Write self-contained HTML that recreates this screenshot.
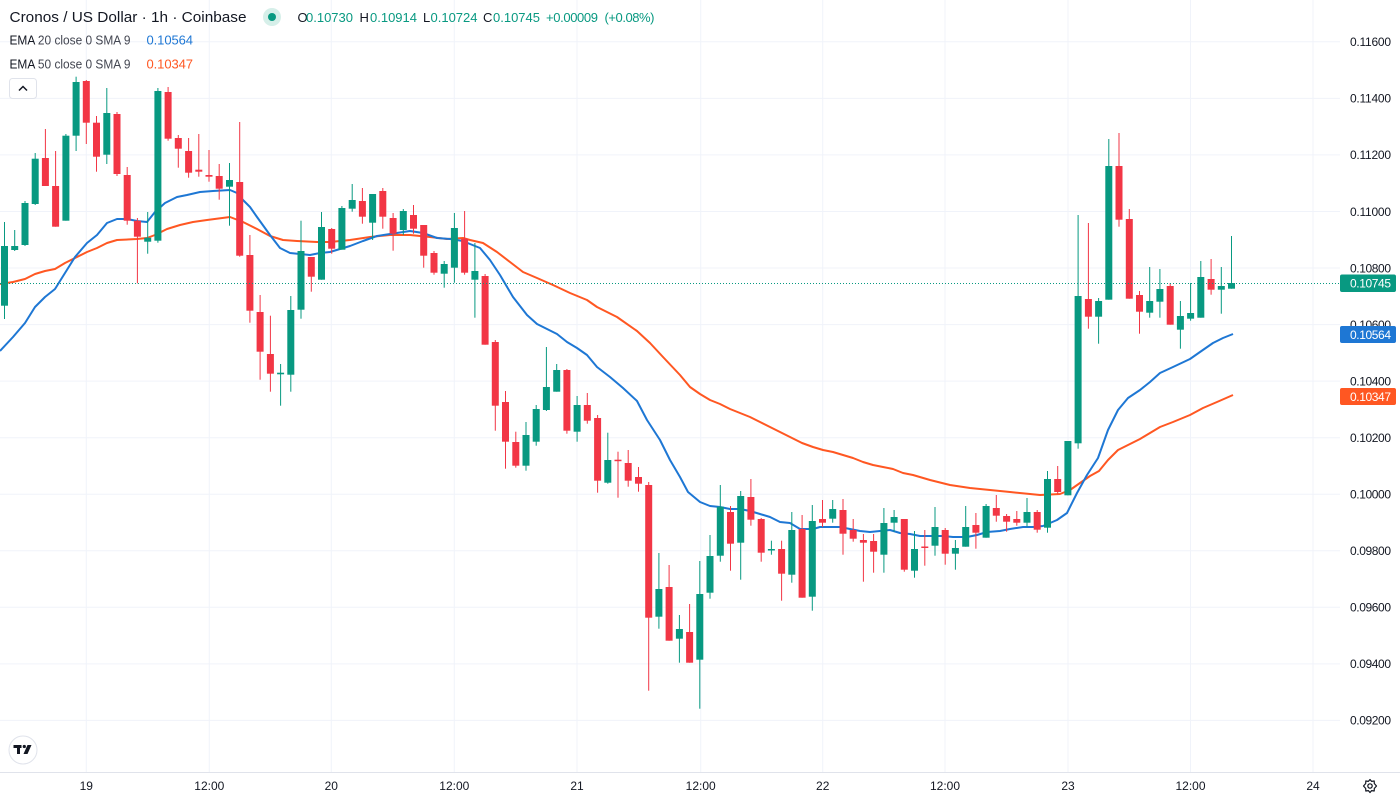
<!DOCTYPE html>
<html><head><meta charset="utf-8"><style>
html,body{margin:0;padding:0;background:#fff;}
svg{display:block;font-family:"Liberation Sans",Arial,sans-serif;}
</style></head><body>
<svg width="1400" height="800" viewBox="0 0 1400 800" xmlns="http://www.w3.org/2000/svg">
<rect width="1400" height="800" fill="#fff"/>
<!-- grid -->
<g stroke="#f0f3fa" stroke-width="1">
<line x1="86.3" y1="0" x2="86.3" y2="772"/><line x1="209.3" y1="0" x2="209.3" y2="772"/>
<line x1="331.3" y1="0" x2="331.3" y2="772"/><line x1="454.3" y1="0" x2="454.3" y2="772"/>
<line x1="577" y1="0" x2="577" y2="772"/><line x1="700.7" y1="0" x2="700.7" y2="772"/>
<line x1="822.7" y1="0" x2="822.7" y2="772"/><line x1="945" y1="0" x2="945" y2="772"/>
<line x1="1068" y1="0" x2="1068" y2="772"/><line x1="1190.5" y1="0" x2="1190.5" y2="772"/>
<line x1="1313" y1="0" x2="1313" y2="772"/>
<line x1="0" y1="41.8" x2="1340" y2="41.8"/><line x1="0" y1="98.4" x2="1340" y2="98.4"/>
<line x1="0" y1="154.9" x2="1340" y2="154.9"/><line x1="0" y1="211.5" x2="1340" y2="211.5"/>
<line x1="0" y1="268" x2="1340" y2="268"/><line x1="0" y1="324.6" x2="1340" y2="324.6"/>
<line x1="0" y1="381.1" x2="1340" y2="381.1"/><line x1="0" y1="437.7" x2="1340" y2="437.7"/>
<line x1="0" y1="494.2" x2="1340" y2="494.2"/><line x1="0" y1="550.8" x2="1340" y2="550.8"/>
<line x1="0" y1="607.3" x2="1340" y2="607.3"/><line x1="0" y1="663.9" x2="1340" y2="663.9"/>
<line x1="0" y1="720.4" x2="1340" y2="720.4"/>
</g>
<line x1="0" y1="772.5" x2="1400" y2="772.5" stroke="#e0e3eb" stroke-width="1"/>

<!-- EMA 50 -->
<polyline fill="none" stroke="#ff5722" stroke-width="2" stroke-linejoin="round" points="0,284 13,282 25,279 35,274 45,271 55,269 65,263 75,258 87,252 97,248 107,243 117,240 137,239 147,238 155,235 167,229 180,225 193,222 207,220 230,217 243,222 257,229 270,236 283,240 297,241 317,242 330,242 350,240 370,237 390,235 410,235 430,237 447,239 463,238 470,240 483,243 497,252 510,262 523,272 537,278 553,285 570,293 587,300 597,307 617,317 637,331 650,343 663,357 680,375 690,387 700,394 710,400 720,404 730,409 740,413 750,417 760,422 770,427 780,432 790,437 802,443 813,447 823,450 833,452 843,455 853,458 863,462 873,465 883,467 893,469 903,473 913,475 930,480 950,485 970,488 990,490 1010,492 1030,494 1040,495 1060,494 1070,490 1080,483 1090,476 1099,471 1108,460 1118,450 1128,445 1140,439 1150,433 1160,427 1173,422 1190,415 1203,408 1217,402 1233,395"/>
<!-- EMA 20 -->
<polyline fill="none" stroke="#1e77d4" stroke-width="2" stroke-linejoin="round" points="0,351 13,337 25,323 35,307 45,297 55,289 65,273 75,257 87,243 97,235 107,223 117,219 127,219 137,221 147,222 155,212 165,203 177,197 187,195 200,192 213,191 230,190 237,193 243,200 250,207 257,217 270,235 280,248 290,253 300,254 310,255 320,253 330,252 340,249 350,246 363,241 377,236 390,234 410,231 423,233 437,238 450,239 463,241 470,244 480,248 490,260 500,275 513,297 527,315 537,324 547,329 557,334 567,342 577,348 587,355 597,367 610,377 623,388 637,401 647,420 660,440 670,460 680,477 688,492 700,502 710,506 720,507 730,509 740,509 750,511 760,514 770,517 780,522 790,523 800,529 813,529 820,527 830,527 840,527 850,529 860,531 870,532 880,531 890,530 900,533 910,534 920,536 930,536 943,536 953,537 967,537 977,535 987,532 1000,531 1010,529 1023,527 1033,527 1043,526 1057,520 1067,513 1077,493 1087,475 1098,458 1108,430 1118,410 1128,398 1140,390 1150,382 1160,373 1173,367 1190,359 1200,352 1213,343 1223,338 1233,334"/>

<!-- green candles -->
<g fill="#089981">
<rect x="1" y="246" width="7" height="59.7"/><rect x="4" y="222" width="1" height="97"/>
<rect x="11.2" y="246" width="7" height="4"/><rect x="14.2" y="230" width="1" height="21"/>
<rect x="21.5" y="203" width="7" height="42"/><rect x="24.5" y="201" width="1" height="45"/>
<rect x="31.7" y="158.7" width="7" height="45.3"/><rect x="34.7" y="153" width="1" height="52"/>
<rect x="62.4" y="135.7" width="7" height="85"/><rect x="65.4" y="134" width="1" height="86.7"/>
<rect x="72.6" y="82" width="7" height="53.7"/><rect x="75.6" y="76.7" width="1" height="74.3"/>
<rect x="103.3" y="113" width="7" height="41.7"/><rect x="106.3" y="88" width="1" height="76"/>
<rect x="144.2" y="237.7" width="7" height="4"/><rect x="147.2" y="212" width="1" height="41.7"/>
<rect x="154.4" y="91" width="7" height="149.7"/><rect x="157.4" y="88" width="1" height="154.7"/>
<rect x="226" y="180" width="7" height="6.7"/><rect x="229" y="163" width="1" height="62.7"/>
<rect x="277.1" y="372.7" width="7" height="1.6"/><rect x="280.1" y="364" width="1" height="41.7"/>
<rect x="287.3" y="310" width="7" height="64.7"/><rect x="290.3" y="296" width="1" height="95.7"/>
<rect x="297.5" y="251" width="7" height="58.7"/><rect x="300.5" y="220.7" width="1" height="98"/>
<rect x="318" y="227" width="7" height="52.7"/><rect x="321" y="212" width="1" height="67.7"/>
<rect x="338.4" y="208" width="7" height="41.7"/><rect x="341.4" y="206" width="1" height="43.7"/>
<rect x="348.7" y="200" width="7" height="8.7"/><rect x="351.7" y="184" width="1" height="27.7"/>
<rect x="369.1" y="194" width="7" height="28.7"/><rect x="372.1" y="194" width="1" height="46"/>
<rect x="399.8" y="211" width="7" height="19"/><rect x="402.8" y="209" width="1" height="26"/>
<rect x="440.7" y="264" width="7" height="9.7"/><rect x="443.7" y="261" width="1" height="26.7"/>
<rect x="450.9" y="228" width="7" height="39.7"/><rect x="453.9" y="213" width="1" height="69.7"/>
<rect x="471.4" y="271" width="7" height="8.7"/><rect x="474.4" y="243" width="1" height="74.7"/>
<rect x="522.5" y="435" width="7" height="30.7"/><rect x="525.5" y="422" width="1" height="48.7"/>
<rect x="532.7" y="409" width="7" height="32.7"/><rect x="535.7" y="405" width="1" height="40.7"/>
<rect x="542.9" y="387" width="7" height="23"/><rect x="545.9" y="347" width="1" height="64"/>
<rect x="553.2" y="370" width="7" height="21.7"/><rect x="556.2" y="364" width="1" height="27.7"/>
<rect x="573.6" y="405" width="7" height="26.7"/><rect x="576.6" y="396" width="1" height="45.7"/>
<rect x="604.3" y="460" width="7" height="22.7"/><rect x="607.3" y="432.7" width="1" height="51"/>
<rect x="655.4" y="589" width="7" height="27.7"/><rect x="658.4" y="553" width="1" height="75.7"/>
<rect x="675.9" y="629" width="7" height="9.7"/><rect x="678.9" y="615" width="1" height="47.7"/>
<rect x="696.3" y="594" width="7" height="65.7"/><rect x="699.3" y="561" width="1" height="147.7"/>
<rect x="706.5" y="556" width="7" height="36.7"/><rect x="709.5" y="535" width="1" height="63.7"/>
<rect x="716.8" y="506.7" width="7" height="49"/><rect x="719.8" y="485" width="1" height="76.7"/>
<rect x="737.2" y="496" width="7" height="46.7"/><rect x="740.2" y="491" width="1" height="88.7"/>
<rect x="767.9" y="549" width="7" height="1.5"/><rect x="770.9" y="540.7" width="1" height="14"/>
<rect x="788.3" y="530" width="7" height="44.7"/><rect x="791.3" y="512" width="1" height="70.7"/>
<rect x="808.8" y="521" width="7" height="75.7"/><rect x="811.8" y="505" width="1" height="105.7"/>
<rect x="829.2" y="509" width="7" height="9.7"/><rect x="832.2" y="500" width="1" height="22.7"/>
<rect x="880.4" y="523" width="7" height="31.7"/><rect x="883.4" y="508" width="1" height="64.7"/>
<rect x="890.6" y="517" width="7" height="5.7"/><rect x="893.6" y="510" width="1" height="21.7"/>
<rect x="911" y="549" width="7" height="21.7"/><rect x="914" y="531" width="1" height="46.7"/>
<rect x="931.5" y="527" width="7" height="18.7"/><rect x="934.5" y="507" width="1" height="48.7"/>
<rect x="951.9" y="548" width="7" height="5.7"/><rect x="954.9" y="540" width="1" height="29.7"/>
<rect x="962.2" y="527" width="7" height="19.7"/><rect x="965.2" y="506" width="1" height="40.7"/>
<rect x="982.6" y="506" width="7" height="31.7"/><rect x="985.6" y="504" width="1" height="33.7"/>
<rect x="1023.5" y="512" width="7" height="10.7"/><rect x="1026.5" y="498" width="1" height="28.7"/>
<rect x="1044" y="479" width="7" height="48.7"/><rect x="1047" y="471" width="1" height="61.7"/>
<rect x="1064.4" y="441" width="7" height="54.3"/><rect x="1067.4" y="441" width="1" height="54.3"/>
<rect x="1074.6" y="296" width="7" height="147.3"/><rect x="1077.6" y="215" width="1" height="233.7"/>
<rect x="1095.1" y="301" width="7" height="15.7"/><rect x="1098.1" y="298" width="1" height="45.7"/>
<rect x="1105.3" y="166" width="7" height="133.7"/><rect x="1108.3" y="139" width="1" height="160.7"/>
<rect x="1146.2" y="301" width="7" height="11.7"/><rect x="1149.2" y="267" width="1" height="50.7"/>
<rect x="1156.4" y="289" width="7" height="12.7"/><rect x="1159.4" y="269" width="1" height="48.7"/>
<rect x="1176.9" y="316" width="7" height="13.7"/><rect x="1179.9" y="301" width="1" height="47.7"/>
<rect x="1187.1" y="313" width="7" height="5.7"/><rect x="1190.1" y="283" width="1" height="37.7"/>
<rect x="1197.3" y="277" width="7" height="40.7"/><rect x="1200.3" y="261" width="1" height="56.7"/>
<rect x="1217.8" y="286" width="7" height="3.7"/><rect x="1220.8" y="267" width="1" height="46.7"/>
<rect x="1228" y="283" width="7" height="5.7"/><rect x="1231" y="236" width="1" height="52.7"/>
</g>
<!-- red candles -->
<g fill="#f23645">
<rect x="41.9" y="158" width="7" height="28"/><rect x="44.9" y="129" width="1" height="57"/>
<rect x="52.1" y="186" width="7" height="40.7"/><rect x="55.1" y="151" width="1" height="75.7"/>
<rect x="82.8" y="81" width="7" height="41.7"/><rect x="85.8" y="80" width="1" height="64"/>
<rect x="93" y="122.7" width="7" height="34"/><rect x="96" y="116" width="1" height="55.7"/>
<rect x="113.5" y="114" width="7" height="60"/><rect x="116.5" y="112" width="1" height="64"/>
<rect x="123.7" y="175" width="7" height="45.7"/><rect x="126.7" y="167" width="1" height="57.7"/>
<rect x="133.9" y="220.7" width="7" height="16"/><rect x="136.9" y="218" width="1" height="65.3"/>
<rect x="164.6" y="92" width="7" height="46.7"/><rect x="167.6" y="87" width="1" height="53.7"/>
<rect x="174.8" y="138" width="7" height="10.7"/><rect x="177.8" y="135" width="1" height="32.7"/>
<rect x="185.1" y="151" width="7" height="21.7"/><rect x="188.1" y="138" width="1" height="39.7"/>
<rect x="195.3" y="169.7" width="7" height="2"/><rect x="198.3" y="134" width="1" height="42.7"/>
<rect x="205.5" y="175" width="7" height="1.7"/><rect x="208.5" y="150" width="1" height="31.7"/>
<rect x="215.7" y="176" width="7" height="12.7"/><rect x="218.7" y="164" width="1" height="35.7"/>
<rect x="236.2" y="182" width="7" height="73.7"/><rect x="239.2" y="122" width="1" height="134.7"/>
<rect x="246.4" y="255" width="7" height="55.7"/><rect x="249.4" y="235" width="1" height="87.7"/>
<rect x="256.6" y="312" width="7" height="39.7"/><rect x="259.6" y="295" width="1" height="84.7"/>
<rect x="266.9" y="354" width="7" height="19.7"/><rect x="269.9" y="315.7" width="1" height="76"/>
<rect x="307.8" y="257" width="7" height="19.7"/><rect x="310.8" y="257" width="1" height="34.7"/>
<rect x="328.2" y="229" width="7" height="19.7"/><rect x="331.2" y="228" width="1" height="25.7"/>
<rect x="358.9" y="201" width="7" height="15.7"/><rect x="361.9" y="188" width="1" height="35.7"/>
<rect x="379.3" y="191" width="7" height="25.7"/><rect x="382.3" y="188" width="1" height="40.7"/>
<rect x="389.6" y="218" width="7" height="15.7"/><rect x="392.6" y="213" width="1" height="37.7"/>
<rect x="410" y="215" width="7" height="13.7"/><rect x="413" y="205" width="1" height="28.7"/>
<rect x="420.2" y="225" width="7" height="30.7"/><rect x="423.2" y="225" width="1" height="42.7"/>
<rect x="430.5" y="253" width="7" height="19.7"/><rect x="433.5" y="251" width="1" height="23.7"/>
<rect x="461.1" y="238.7" width="7" height="34"/><rect x="464.1" y="211" width="1" height="63.7"/>
<rect x="481.6" y="276" width="7" height="68.7"/><rect x="484.6" y="274" width="1" height="70.7"/>
<rect x="491.8" y="342" width="7" height="63.7"/><rect x="494.8" y="340" width="1" height="90.7"/>
<rect x="502" y="402" width="7" height="39.7"/><rect x="505" y="391" width="1" height="77.7"/>
<rect x="512.3" y="442" width="7" height="23.7"/><rect x="515.3" y="431.7" width="1" height="36"/>
<rect x="563.4" y="370" width="7" height="60.7"/><rect x="566.4" y="369" width="1" height="64.7"/>
<rect x="583.8" y="405" width="7" height="15.7"/><rect x="586.8" y="393" width="1" height="30.7"/>
<rect x="594.1" y="418" width="7" height="62.7"/><rect x="597.1" y="415" width="1" height="77.7"/>
<rect x="614.5" y="459.7" width="7" height="1.5"/><rect x="617.5" y="451.7" width="1" height="46"/>
<rect x="624.7" y="463" width="7" height="17.7"/><rect x="627.7" y="450" width="1" height="36.7"/>
<rect x="635" y="477" width="7" height="6.7"/><rect x="638" y="467" width="1" height="24.7"/>
<rect x="645.2" y="485" width="7" height="132.7"/><rect x="648.2" y="482" width="1" height="208.7"/>
<rect x="665.6" y="587" width="7" height="53.7"/><rect x="668.6" y="565" width="1" height="75.7"/>
<rect x="686.1" y="632" width="7" height="30.7"/><rect x="689.1" y="604" width="1" height="58.7"/>
<rect x="727" y="512" width="7" height="31.7"/><rect x="730" y="506" width="1" height="64.7"/>
<rect x="747.4" y="497" width="7" height="22.7"/><rect x="750.4" y="479" width="1" height="46.7"/>
<rect x="757.7" y="519" width="7" height="33.7"/><rect x="760.7" y="518" width="1" height="43.7"/>
<rect x="778.1" y="549" width="7" height="24.7"/><rect x="781.1" y="540.7" width="1" height="60"/>
<rect x="798.6" y="529" width="7" height="68.7"/><rect x="801.6" y="515" width="1" height="82.7"/>
<rect x="819" y="519" width="7" height="3.7"/><rect x="822" y="500" width="1" height="27"/>
<rect x="839.5" y="510" width="7" height="23.7"/><rect x="842.5" y="499" width="1" height="55.7"/>
<rect x="849.7" y="530" width="7" height="8.7"/><rect x="852.7" y="519" width="1" height="22.7"/>
<rect x="859.9" y="540" width="7" height="2.7"/><rect x="862.9" y="534" width="1" height="47.7"/>
<rect x="870.1" y="541" width="7" height="10.7"/><rect x="873.1" y="534" width="1" height="38.7"/>
<rect x="900.8" y="519" width="7" height="50.7"/><rect x="903.8" y="519" width="1" height="52.7"/>
<rect x="921.3" y="546.5" width="7" height="1.5"/><rect x="924.3" y="530" width="1" height="35.7"/>
<rect x="941.7" y="530" width="7" height="23.7"/><rect x="944.7" y="528" width="1" height="36.7"/>
<rect x="972.4" y="525" width="7" height="7.7"/><rect x="975.4" y="513" width="1" height="35.7"/>
<rect x="992.8" y="508" width="7" height="7.7"/><rect x="995.8" y="495" width="1" height="26.7"/>
<rect x="1003.1" y="516" width="7" height="5.7"/><rect x="1006.1" y="514" width="1" height="17.7"/>
<rect x="1013.3" y="519" width="7" height="3.7"/><rect x="1016.3" y="511" width="1" height="14.7"/>
<rect x="1033.7" y="512" width="7" height="17.7"/><rect x="1036.7" y="510" width="1" height="22.7"/>
<rect x="1054.2" y="479" width="7" height="13"/><rect x="1057.2" y="466" width="1" height="28"/>
<rect x="1084.9" y="299" width="7" height="17.7"/><rect x="1087.9" y="223" width="1" height="105.7"/>
<rect x="1115.5" y="166" width="7" height="53.7"/><rect x="1118.5" y="133" width="1" height="93.7"/>
<rect x="1125.8" y="219" width="7" height="79.7"/><rect x="1128.8" y="209" width="1" height="89.7"/>
<rect x="1136" y="295" width="7" height="16.7"/><rect x="1139" y="291" width="1" height="42.7"/>
<rect x="1166.7" y="286" width="7" height="38.7"/><rect x="1169.7" y="283" width="1" height="41.7"/>
<rect x="1207.6" y="279" width="7" height="10.7"/><rect x="1210.6" y="259" width="1" height="35.7"/>
</g>

<!-- last price dotted line -->
<line x1="0" y1="283.5" x2="1340" y2="283.5" stroke="#089981" stroke-width="1" stroke-dasharray="1,2"/>

<!-- price axis labels -->
<g font-size="12" fill="#131722">
<text x="1350" y="46.1" textLength="41">0.11600</text>
<text x="1350" y="102.7" textLength="41">0.11400</text>
<text x="1350" y="159.2" textLength="41">0.11200</text>
<text x="1350" y="215.8" textLength="41">0.11000</text>
<text x="1350" y="272.3" textLength="41">0.10800</text>
<text x="1350" y="328.9" textLength="41">0.10600</text>
<text x="1350" y="385.4" textLength="41">0.10400</text>
<text x="1350" y="442" textLength="41">0.10200</text>
<text x="1350" y="498.5" textLength="41">0.10000</text>
<text x="1350" y="555.1" textLength="41">0.09800</text>
<text x="1350" y="611.6" textLength="41">0.09600</text>
<text x="1350" y="668.2" textLength="41">0.09400</text>
<text x="1350" y="724.7" textLength="41">0.09200</text>
</g>
<!-- price tags -->
<rect x="1340" y="274.5" width="56" height="17.5" rx="2" fill="#089981"/>
<text x="1350" y="287.6" font-size="12" fill="#fff" textLength="41">0.10745</text>
<rect x="1340" y="326" width="56" height="17" rx="2" fill="#1e77d4"/>
<text x="1350" y="338.9" font-size="12" fill="#fff" textLength="41">0.10564</text>
<rect x="1340" y="388" width="56" height="17" rx="2" fill="#ff5722"/>
<text x="1350" y="400.9" font-size="12" fill="#fff" textLength="41">0.10347</text>

<!-- time axis labels -->
<g font-size="12" fill="#131722" text-anchor="middle">
<text x="86.3" y="790">19</text>
<text x="209.3" y="790">12:00</text>
<text x="331.3" y="790">20</text>
<text x="454.3" y="790">12:00</text>
<text x="577" y="790">21</text>
<text x="700.7" y="790">12:00</text>
<text x="822.7" y="790">22</text>
<text x="945" y="790">12:00</text>
<text x="1068" y="790">23</text>
<text x="1190.5" y="790">12:00</text>
<text x="1313" y="790">24</text>
</g>

<!-- gear icon -->
<g transform="translate(1370,786)" fill="none" stroke="#131722" stroke-width="1.2">
<circle r="2.2"/>
<path d="M0,-6.5 L1.6,-4.6 L4.2,-5 L4.3,-2.5 L6.5,0 L4.3,2.5 L4.2,5 L1.6,4.6 L0,6.5 L-1.6,4.6 L-4.2,5 L-4.3,2.5 L-6.5,0 L-4.3,-2.5 L-4.2,-5 L-1.6,-4.6 Z" stroke-linejoin="round"/>
</g>

<!-- TV logo -->
<circle cx="23" cy="750" r="14" fill="#fff" stroke="#e0e3eb"/>
<g fill="#131722">
<rect x="13.5" y="745" width="8" height="3"/>
<rect x="17" y="745" width="3" height="9"/>
<circle cx="24.3" cy="746.5" r="1.6"/>
<polygon points="27.5,745 31.5,745 27.5,754 23.5,754"/>
</g>

<!-- header -->
<text x="9.5" y="22" font-size="15" fill="#131722" textLength="237" lengthAdjust="spacingAndGlyphs">Cronos / US Dollar · 1h · Coinbase</text>
<circle cx="272" cy="17" r="9" fill="#d6efe9"/>
<circle cx="272" cy="17" r="4" fill="#089981"/>
<g font-size="13">
<text x="297.5" y="22" fill="#131722">O</text>
<text x="306" y="22" fill="#089981" textLength="47">0.10730</text>
<text x="359.5" y="22" fill="#131722">H</text>
<text x="370" y="22" fill="#089981" textLength="47">0.10914</text>
<text x="423" y="22" fill="#131722">L</text>
<text x="430.5" y="22" fill="#089981" textLength="47">0.10724</text>
<text x="483" y="22" fill="#131722">C</text>
<text x="493" y="22" fill="#089981" textLength="47">0.10745</text>
<text x="546" y="22" fill="#089981" textLength="52">+0.00009</text>
<text x="604.5" y="22" fill="#089981" textLength="50">(+0.08%)</text>
</g>
<g font-size="12.5">
<text x="9.5" y="44.5" fill="#131722" textLength="121" lengthAdjust="spacingAndGlyphs"><tspan>EMA</tspan><tspan fill="#434651"> 20 close 0 SMA 9</tspan></text>
<text x="146.5" y="44.5" fill="#1e77d4" font-size="13" textLength="46.5">0.10564</text>
<text x="9.5" y="68.5" fill="#131722" textLength="121" lengthAdjust="spacingAndGlyphs"><tspan>EMA</tspan><tspan fill="#434651"> 50 close 0 SMA 9</tspan></text>
<text x="146.5" y="68.5" fill="#ff5722" font-size="13" textLength="46.5">0.10347</text>
</g>
<!-- collapse button -->
<rect x="9.5" y="78.5" width="27" height="20" rx="3" fill="#fff" stroke="#e0e3eb"/>
<polyline points="19,90.5 23,86.5 27,90.5" fill="none" stroke="#131722" stroke-width="1.5"/>
</svg>
</body></html>
